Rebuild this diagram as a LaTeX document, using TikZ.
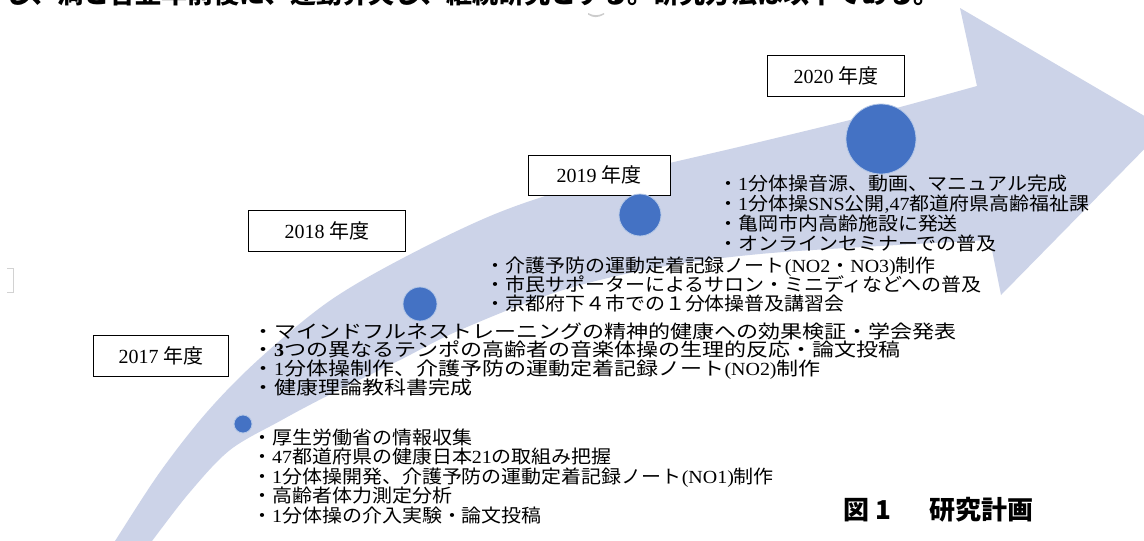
\documentclass[tikz,border=0pt]{standalone}
\usepackage{fontspec}
\setmainfont{Liberation Serif}
\newfontfamily\ja[FakeStretch=1.08]{Noto Sans CJK JP}
\newfontfamily\jab{Noto Sans CJK JP}
\newfontfamily\jaw[FakeStretch=1.19]{Noto Sans CJK JP}
\newfontfamily\la[FakeStretch=1.08]{Liberation Serif}
\newfontfamily\lab{Liberation Serif}
\definecolor{band}{RGB}{204,211,232}
\definecolor{dotblue}{RGB}{68,114,196}
\tikzset{
  yearbox/.style={draw=black, line width=1pt, fill=white, minimum height=41pt, inner sep=0pt,
    font=\jab\fontsize{20}{20}\selectfont},
  bluedot/.style={circle, fill=dotblue, draw=white!60!dotblue, line width=0.8pt, inner sep=0pt},
  item/.style={anchor=west, inner sep=0pt, text height=16.3pt, text depth=2.2pt,
    font=\ja\fontsize{18.5}{18.5}\selectfont},
  itemw/.style={item, font=\jaw\fontsize{18.5}{18.5}\selectfont},
}
\begin{document}
\begin{tikzpicture}[x=1pt,y=-1pt]
\useasboundingbox (0,0) rectangle (1144,541);
\fill[white] (0,0) rectangle (1144,541);
% cut-off line of text at the top
\node[anchor=base west, inner sep=0pt, font=\jab\bfseries\fontsize{26}{26}\selectfont] (toptext) at (5,3)
  {し、満と合亜年前後に、運動昇天し、継続研究とする。研究方法は以下である。};
% big curved arrow
\fill[band] plot[smooth, tension=0.55] coordinates {(103,560) (115,541) (160,472) (207,412) (258,360) (328,302) (405,257) (500,212) (600,180) (747,145) (870,115) (977,86)}
  -- (960,8) -- (1165,128) -- (1001,295) -- (990,240)
  -- plot[smooth, tension=0.55] coordinates {(990,240) (880,246) (760,254) (660,267) (560,291) (460,330) (400,360) (327,396) (280,421) (230,450) (190,492) (152,541) (138,560)}
  -- cycle;
% small marks
\fill[gray!40] (588,13) .. controls (594,16) and (598,16) .. (604,13) -- (604,14.5) .. controls (598,18) and (593,18) .. (588,14.5) -- cycle;
\draw[gray!35, line width=0.8pt] (7,268) -- (13,268) -- (13,292) -- (7,292);
% year boxes
\node[yearbox, minimum width=135pt] (y17) at (161,356) {{\lab 2017 }年度};
\node[yearbox, minimum width=157pt] (y18) at (327,231) {{\lab 2018 }年度};
\node[yearbox, minimum width=142pt, minimum height=40pt] (y19) at (599,175) {{\lab 2019 }年度};
\node[yearbox, minimum width=137pt] (y20) at (836,76) {{\lab 2020 }年度};
% dots
\node[bluedot, minimum size=18pt] (d17) at (243,424) {};
\node[bluedot, minimum size=34pt] (d18) at (420,304) {};
\node[bluedot, minimum size=42pt] (d19) at (640,215) {};
\node[bluedot, minimum size=70pt] (d20) at (881,139) {};
% 2017 list
\foreach \t [count=\i] in {
  {・厚生労働省の情報収集},
  {・{\la 47}都道府県の健康日本{\la 21}の取組み把握},
  {・{\la 1}分体操開発、介護予防の運動定着記録ノート{\la (NO1)}制作},
  {・高齢者体力測定分析},
  {・{\la 1}分体操の介入実験・論文投稿}}
  \node[item] (a\i) at (252,{437+(\i-1)*19.5}) {\t};
% 2018 list
\foreach \t [count=\i] in {
  {・マインドフルネストレーニングの精神的健康への効果検証・学会発表},
  {・{\la\bfseries 3}つの異なるテンポの高齢者の音楽体操の生理的反応・論文投稿},
  {・{\la 1}分体操制作、介護予防の運動定着記録ノート{\la (NO2)}制作},
  {・健康理論教科書完成}}
  \node[itemw] (b\i) at (252,{331+(\i-1)*18.7}) {\t};
% 2019 list
\foreach \t [count=\i] in {
  {・介護予防の運動定着記録ノート{\la (NO2}・{\la NO3)}制作},
  {・市民サポーターによるサロン・ミニディなどへの普及},
  {・京都府下４市での１分体操普及講習会}}
  \node[item] (c\i) at (485,{265+(\i-1)*19}) {\t};
% 2020 list
\foreach \t [count=\i] in {
  {・{\la 1}分体操音源、動画、マニュアル完成},
  {・{\la 1}分体操{\la SNS}公開{\la ,47}都道府県高齢福祉課},
  {・亀岡市内高齢施設に発送},
  {・オンラインセミナーでの普及}}
  \node[item] (e\i) at (718,{183+(\i-1)*20}) {\t};
% caption
\node[anchor=west, inner sep=0pt, font=\jab\bfseries\fontsize{26}{26}\selectfont] (cap) at (843,510)
  {図\hspace{6pt}1\hspace{38pt}研究計画};
\end{tikzpicture}
\end{document}
